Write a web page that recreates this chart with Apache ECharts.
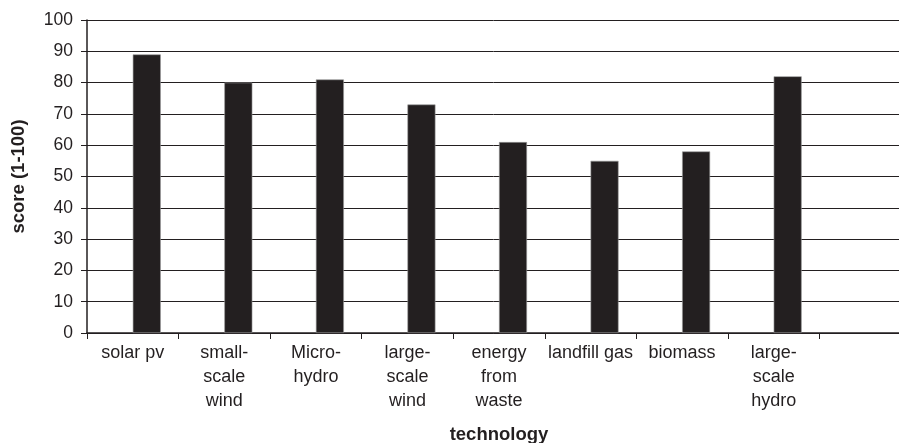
<!DOCTYPE html>
<html><head><meta charset="utf-8">
<script src="https://cdn.jsdelivr.net/npm/echarts@6/dist/echarts.min.js"></script>
<style>html,body{margin:0;padding:0;background:#fff;overflow:hidden}#c{width:899px;height:443px}</style>
</head><body><div id="c"></div>
<script>
const categories = ['solar pv','small-\nscale\nwind','Micro-\nhydro','large-\nscale\nwind','energy\nfrom\nwaste','landfill gas','biomass','large-\nscale\nhydro',''];
const scores = [89, 80, 81, 73, 61, 55, 58, 82, null];
const emptySeries = [null, null, null, null, null, null, null, null, null];
const yTicks = {min: 0, max: 100, interval: 10};

const ink = '#231f20';
const font = 'Liberation Sans, Arial, sans-serif';
const chart = echarts.init(document.getElementById('c'), null, {renderer: 'canvas'});
chart.setOption({
  animation: false,
  backgroundColor: '#fff',
  grid: {left: 87, top: 20, width: 824, height: 313, containLabel: false, outerBoundsMode: 'none'},
  xAxis: {
    type: 'category',
    data: categories,
    boundaryGap: true,
    name: 'technology',
    nameLocation: 'middle',
    nameGap: 92,
    nameTextStyle: {fontFamily: font, fontSize: 18.5, fontWeight: 'bold', color: ink},
    axisLine: {lineStyle: {color: ink, width: 1.5}},
    axisTick: {show: true, inside: false, length: 6, lineStyle: {color: ink}},
    axisLabel: {interval: 0, fontFamily: font, fontSize: 18, color: ink, lineHeight: 24, margin: 8},
    splitLine: {show: false}
  },
  yAxis: {
    type: 'value',
    min: yTicks.min, max: yTicks.max, interval: yTicks.interval,
    name: 'score (1-100)',
    nameLocation: 'middle',
    nameGap: 59,
    nameRotate: 90,
    nameTextStyle: {fontFamily: font, fontSize: 18.5, fontWeight: 'bold', color: ink},
    axisLine: {show: true, lineStyle: {color: ink, width: 1.5}},
    axisTick: {show: true, inside: false, length: 6, lineStyle: {color: ink}},
    axisLabel: {fontFamily: font, fontSize: 17.5, color: ink, margin: 14},
    splitLine: {show: true, lineStyle: {color: ink, width: 1}}
  },
  series: [
    {type: 'bar', data: emptySeries, barWidth: 28, barGap: '0%'},
    {type: 'bar', data: scores, barWidth: 28, barGap: '0%', itemStyle: {color: ink, borderColor: '#9a9a9a', borderWidth: 0.6}}
  ]
});
</script></body></html>
